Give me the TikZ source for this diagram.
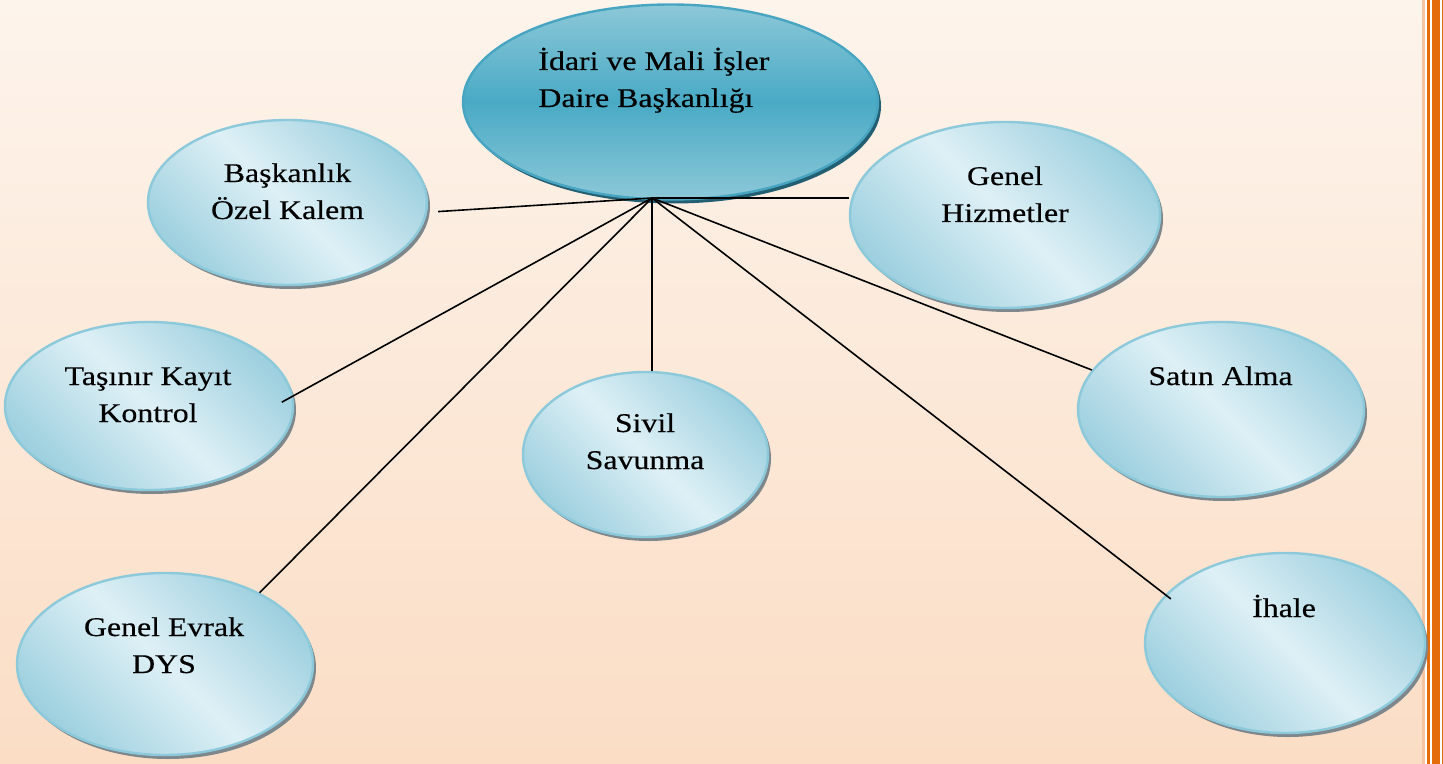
\documentclass[tikz,border=0pt]{standalone}
\usepackage{fontspec}
\usetikzlibrary{shapes.geometric,shadows}
\newfontfamily\lbfont{Liberation Serif}[FakeStretch=1.18,FakeBold=0.4]
\definecolor{bgtop}{RGB}{253,244,236}
\definecolor{bgbot}{RGB}{251,221,197}
\definecolor{bubedge}{RGB}{140,201,218}
\definecolor{bublight}{RGB}{222,240,246}
\definecolor{bubdark}{RGB}{158,208,223}
\definecolor{bubshadow}{RGB}{125,135,140}
\definecolor{toplight}{RGB}{140,200,216}
\definecolor{topmid}{RGB}{73,170,197}
\definecolor{topedge}{RGB}{72,165,194}
\definecolor{topshadow}{RGB}{35,95,115}
\definecolor{orangeb}{RGB}{228,108,10}
\definecolor{orangel}{RGB}{246,196,160}
\tikzset{
  bub/.style={ellipse, inner sep=0pt, draw=bubedge, line width=1.2pt,
    top color=bubdark, bottom color=bubdark, middle color=bublight, shading angle=-45,
    drop shadow={shadow xshift=1.5pt, shadow yshift=-2pt, fill=bubshadow, opacity=1}},
  topbub/.style={ellipse, inner sep=0pt, draw=topedge, line width=1.2pt,
    top color=toplight, bottom color=toplight, middle color=topmid,
    drop shadow={shadow xshift=1.5pt, shadow yshift=-2pt, fill=topshadow, opacity=1}},
  lbl/.style={font=\lbfont\fontsize{13.5}{18.5}\selectfont, align=center, inner sep=0pt},
  conn/.style={draw=black, line width=0.8pt}
}
\begin{document}
\begin{tikzpicture}[x=0.5pt, y=-0.5pt]
\useasboundingbox (0,0) rectangle (1443,764);
\shade[top color=bgtop, bottom color=bgbot] (0,0) rectangle (1443,764);
% right border
\fill[orangel] (1422,0) rectangle (1425,764);
\fill[white] (1425,0) rectangle (1443,764);
\fill[orangeb] (1427,0) rectangle (1429.5,764);
\fill[orangeb] (1432,0) rectangle (1440,764);
\fill[orangeb] (1441.5,0) rectangle (1443,764);
% ellipses
\node[topbub, minimum width=207.5pt, minimum height=97.5pt] (top) at (670.5,102) {};
\node[bub, minimum width=139.5pt, minimum height=82.5pt] (bk) at (287.5,202.5) {};
\node[bub, minimum width=155pt, minimum height=93pt] (gh) at (1005,215) {};
\node[bub, minimum width=144pt, minimum height=84pt] (tk) at (149,406) {};
\node[bub, minimum width=122.5pt, minimum height=82.5pt] (sv) at (645.5,454.5) {};
\node[bub, minimum width=143pt, minimum height=87.5pt] (sa) at (1221,409.5) {};
\node[bub, minimum width=148pt, minimum height=91pt] (ge) at (165,664) {};
\node[bub, minimum width=140pt, minimum height=90pt] (ih) at (1285,643) {};
% connectors
\coordinate (hub) at (652,198);
\draw[conn, shorten >=5.5pt] (hub) -- (bk.356);
\draw[conn] (hub) -- (hub -| gh.west);
\draw[conn, shorten >=-6.5pt] (hub) -- (tk.4.9);
\draw[conn] (hub) -- (hub |- sv.north);
\draw[conn] (hub) -- (sa.163);
\draw[conn] (hub) -- (ge.37.4);
\draw[conn, shorten >=-3.5pt] (hub) -- (ih.158.5);
% labels (base = last line's baseline)
\node[lbl, align=left, anchor=base west] (topt) at (538,107) {İdari ve Mali İşler\\Daire Başkanlığı};
\node[lbl, anchor=base] (bkt) at (287.5,219) {Başkanlık\\Özel Kalem};
\node[lbl, anchor=base] (ght) at (1005,222) {Genel\\Hizmetler};
\node[lbl, anchor=base] (tkt) at (148,422) {Taşınır Kayıt\\Kontrol};
\node[lbl, anchor=base] (svt) at (645,469) {Sivil\\Savunma};
\node[lbl, anchor=base] (sat) at (1220.5,385) {Satın Alma};
\node[lbl, anchor=base] (get) at (164,673) {Genel Evrak\\DYS};
\node[lbl, anchor=base] (iht) at (1284,617) {İhale};
\end{tikzpicture}
\end{document}
